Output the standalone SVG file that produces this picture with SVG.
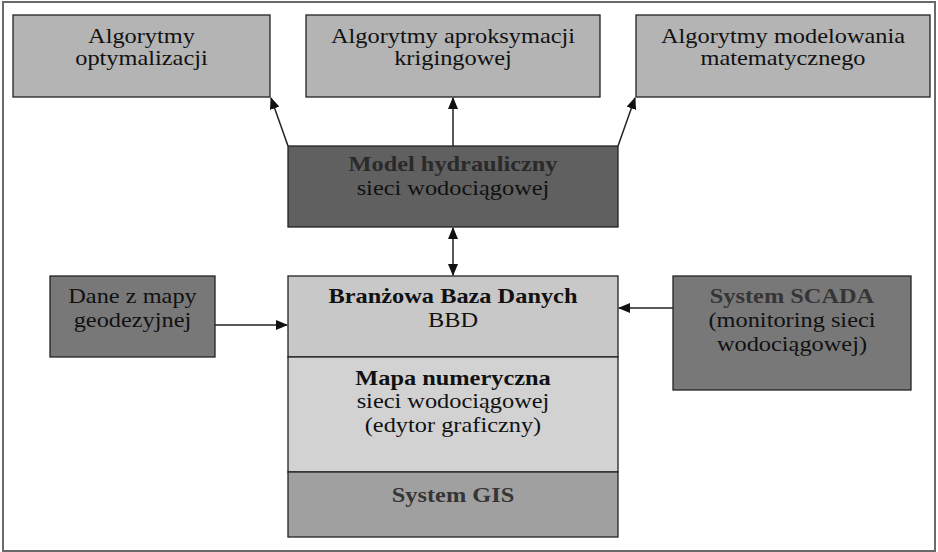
<svg xmlns="http://www.w3.org/2000/svg" width="938" height="552" viewBox="0 0 938 552">
<defs>
<style>
.frame{fill:#fff;stroke:#6a6a6a;stroke-width:2}
.box{stroke:#222;stroke-width:1.3}
.top{fill:#b4b4b4}
.dark{fill:#606060}
.mid{fill:#787878}
.bbd{fill:#c8c8c8}
.mapa{fill:#d2d2d2}
.gis{fill:#a0a0a0}
text{font-family:"Liberation Serif","Times New Roman",serif;font-size:21px;text-anchor:middle;fill:#111}
.b{font-weight:bold}
.g{fill:#353535}
.mb{fill:#2a2a2a}
.conn{stroke:#222;stroke-width:1.5;fill:none}
</style>
<marker id="ah" markerUnits="userSpaceOnUse" markerWidth="12" markerHeight="10" refX="11" refY="5" orient="auto-start-reverse" viewBox="0 0 12 10">
<path d="M0,0 L12,5 L0,10 z" fill="#111"/>
</marker>
</defs>
<rect class="frame" x="3" y="2" width="932" height="549"/>

<g id="n-opt">
<rect class="box top" x="13" y="15" width="257" height="82"/>
<text transform="translate(141.5,43) scale(1.16,1)">Algorytmy</text>
<text transform="translate(141.5,65) scale(1.16,1)">optymalizacji</text>
</g>
<g id="n-krig">
<rect class="box top" x="306" y="15" width="294" height="82"/>
<text transform="translate(453,43) scale(1.16,1)">Algorytmy aproksymacji</text>
<text transform="translate(453,65) scale(1.16,1)">krigingowej</text>
</g>
<g id="n-mat">
<rect class="box top" x="636" y="15" width="294" height="82"/>
<text transform="translate(783,43) scale(1.16,1)">Algorytmy modelowania</text>
<text transform="translate(783,65) scale(1.16,1)">matematycznego</text>
</g>
<g id="n-model">
<rect class="box dark" x="288" y="146" width="330" height="81"/>
<text class="b mb" transform="translate(453,171) scale(1.16,1)">Model hydrauliczny</text>
<text transform="translate(453,195) scale(1.16,1)">sieci wodociągowej</text>
</g>
<g id="n-dane">
<rect class="box mid" x="50" y="276" width="165" height="81"/>
<text transform="translate(132.5,303) scale(1.16,1)">Dane z mapy</text>
<text transform="translate(132.5,327) scale(1.16,1)">geodezyjnej</text>
</g>
<g id="n-bbd">
<rect class="box bbd" x="288" y="276" width="330" height="81"/>
<text class="b" transform="translate(453,303) scale(1.16,1)">Branżowa Baza Danych</text>
<text transform="translate(453,327) scale(1.16,1)">BBD</text>
</g>
<g id="n-mapa">
<rect class="box mapa" x="288" y="357" width="330" height="115"/>
<text class="b" transform="translate(453,385) scale(1.16,1)">Mapa numeryczna</text>
<text transform="translate(453,408) scale(1.16,1)">sieci wodociągowej</text>
<text transform="translate(453,432) scale(1.16,1)">(edytor graficzny)</text>
</g>
<g id="n-gis">
<rect class="box gis" x="288" y="472" width="330" height="65"/>
<text class="b g" transform="translate(453,502) scale(1.16,1)">System GIS</text>
</g>
<g id="n-scada">
<rect class="box mid" x="673" y="276" width="238" height="114"/>
<text class="b g" transform="translate(792,303) scale(1.16,1)">System SCADA</text>
<text transform="translate(792,327) scale(1.16,1)">(monitoring sieci</text>
<text transform="translate(792,351) scale(1.16,1)">wodociągowej)</text>
</g>

<g id="connectors">
<line class="conn" x1="288" y1="146" x2="271" y2="98" marker-end="url(#ah)"/>
<line class="conn" x1="453" y1="146" x2="453" y2="98" marker-end="url(#ah)"/>
<line class="conn" x1="618" y1="146" x2="635" y2="98" marker-end="url(#ah)"/>
<line class="conn" x1="453" y1="228" x2="453" y2="275" marker-start="url(#ah)" marker-end="url(#ah)"/>
<line class="conn" x1="215" y1="325" x2="287" y2="325" marker-end="url(#ah)"/>
<line class="conn" x1="673" y1="308" x2="619" y2="308" marker-end="url(#ah)"/>
</g>
</svg>
